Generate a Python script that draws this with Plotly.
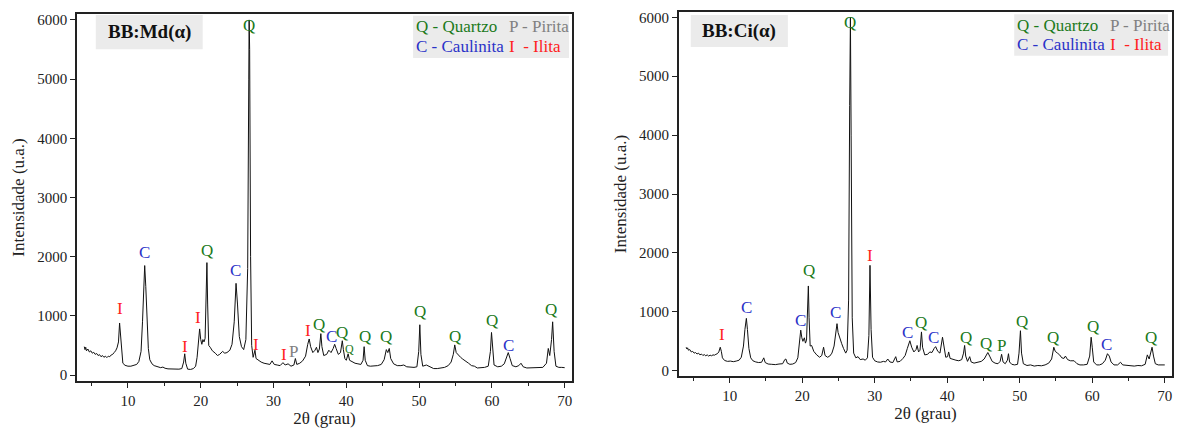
import plotly.graph_objects as go

# ---------------- data: BB:Md(alpha) ----------------
md_theta = [4.0, 4.1, 4.2, 4.3, 4.5, 4.7, 4.9, 5.1, 5.3, 5.5, 5.7, 5.9, 6.1, 6.3, 6.5, 6.7, 6.9, 7.1, 7.3, 7.5,
            7.7, 7.9, 8.1, 8.3, 8.5, 8.7, 8.85, 9.0, 9.15, 9.3, 9.6, 10.0, 10.4, 10.8, 11.2, 11.5, 11.8, 12.0, 12.15, 12.3,
            12.45, 12.6, 12.8, 13.0, 13.3, 13.6, 14.0, 14.5, 14.8, 15.1, 15.5, 16.0, 16.5, 17.0, 17.4, 17.65, 17.8, 17.95, 18.2, 18.6,
            19.0, 19.3, 19.5, 19.7, 19.85, 20.0, 20.15, 20.3, 20.45, 20.6, 20.75, 20.85, 20.95, 21.1, 21.3, 21.6, 22.0, 22.3, 22.6, 23.0,
            23.3, 23.6, 24.0, 24.3, 24.6, 24.85, 25.05, 25.3, 25.6, 25.9, 26.2, 26.45, 26.6, 26.65, 26.72, 26.85, 27.0, 27.2, 27.45, 27.6,
            27.9, 28.3, 28.7, 29.1, 29.5, 29.8, 30.1, 30.5, 30.9, 31.3, 31.6, 32.0, 32.4, 32.8, 33.0, 33.2, 33.6, 34.0, 34.4, 34.7,
            34.9, 35.1, 35.4, 35.7, 35.9, 36.1, 36.3, 36.5, 36.65, 36.9, 37.3, 37.6, 37.9, 38.2, 38.4, 38.6, 38.9, 39.2, 39.45, 39.6,
            39.8, 40.0, 40.25, 40.45, 40.8, 41.2, 41.6, 42.0, 42.3, 42.45, 42.6, 42.9, 43.3, 43.8, 44.3, 44.8, 45.2, 45.5, 45.7, 45.9,
            46.1, 46.5, 47.0, 47.5, 47.9, 48.3, 48.8, 49.3, 49.7, 49.95, 50.1, 50.25, 50.5, 51.0, 51.5, 52.0, 52.5, 53.0, 53.5, 54.0,
            54.4, 54.7, 54.9, 55.1, 55.4, 55.7, 56.0, 56.4, 56.8, 57.2, 57.6, 58.0, 58.5, 59.0, 59.5, 59.8, 59.95, 60.1, 60.3, 60.8,
            61.3, 61.7, 62.0, 62.25, 62.5, 62.8, 63.3, 63.7, 64.0, 64.3, 64.8, 65.5, 66.0, 66.5, 67.0, 67.5, 67.75, 67.95, 68.2, 68.35,
            68.55, 68.8, 69.2, 69.6, 70.0]
md_int = [480, 430, 470, 410, 440, 390, 410, 370, 385, 350, 365, 330, 345, 310, 330, 300, 320, 295, 320, 310,
          340, 350, 380, 410, 460, 560, 880, 600, 300, 200, 165, 150, 150, 160, 180, 230, 400, 900, 1500, 1850,
          1500, 900, 450, 260, 190, 160, 140, 125, 135, 115, 105, 100, 95, 100, 110, 220, 360, 200, 100, 95,
          110, 150, 300, 650, 780, 600, 520, 600, 560, 620, 1300, 1900, 1200, 500, 470, 410, 370, 330, 350, 400,
          370, 380, 420, 520, 900, 1550, 1200, 650, 480, 430, 600, 1800, 5000, 6000, 5500, 2000, 500, 300, 420, 280,
          250, 220, 200, 190, 180, 240, 180, 170, 160, 210, 170, 190, 150, 170, 280, 180, 200, 240, 320, 520,
          610, 480, 380, 420, 470, 380, 440, 700, 480, 330, 350, 420, 380, 450, 520, 450, 350, 380, 580, 430,
          280, 250, 360, 250, 220, 200, 190, 180, 250, 480, 250, 160, 150, 150, 160, 180, 260, 430, 380, 450,
          280, 190, 160, 160, 170, 140, 130, 130, 140, 400, 850, 350, 150, 170, 140, 110, 110, 120, 130, 160,
          220, 350, 510, 380, 330, 300, 270, 240, 200, 160, 150, 120, 120, 130, 150, 400, 720, 400, 170, 140,
          150, 190, 300, 380, 280, 160, 140, 160, 200, 140, 120, 120, 130, 120, 130, 200, 450, 330, 600, 900,
          400, 150, 130, 130, 125]

md_lab_x = [8.85, 12.3, 17.8, 19.6, 20.85, 24.8, 26.65, 27.6, 31.5, 32.7, 34.8, 36.3, 37.9, 39.4, 40.5, 42.5, 45.5, 50.1, 54.9, 60.0, 62.3, 68.1]
md_lab_y = [1120, 2070, 490, 970, 2100, 1760, 5900, 525, 350, 390, 745, 860, 660, 717, 445, 644, 660, 1073, 660, 915, 508, 1113]
md_lab_t = ["I", "C", "I", "I", "Q", "C", "Q", "I", "I", "P", "I", "Q", "C", "Q", "Q", "Q", "Q", "Q", "Q", "Q", "C", "Q"]
md_lab_s = [17, 17, 17, 17, 17, 17, 17, 17, 17, 17, 17, 17, 17, 17, 12, 17, 17, 17, 17, 17, 17, 17]

# ---------------- data: BB:Ci(alpha) ----------------
ci_theta = [4.0, 4.1, 4.2, 4.3, 4.5, 4.7, 4.9, 5.1, 5.3, 5.5, 5.7, 5.9, 6.1, 6.3, 6.5, 6.7, 6.9, 7.1, 7.3, 7.5,
            7.7, 7.9, 8.1, 8.3, 8.5, 8.7, 8.85, 9.0, 9.3, 9.7, 10.1, 10.5, 10.9, 11.3, 11.6, 11.9, 12.1, 12.3, 12.45, 12.65,
            12.9, 13.2, 13.6, 14.0, 14.4, 14.7, 14.9, 15.3, 15.8, 16.3, 16.8, 17.3, 17.6, 17.75, 17.95, 18.3, 18.7, 19.1, 19.4, 19.65,
            19.8, 19.95, 20.1, 20.3, 20.45, 20.6, 20.75, 20.85, 20.95, 21.1, 21.3, 21.6, 22.0, 22.4, 22.7, 22.95, 23.15, 23.5, 23.8, 24.1,
            24.4, 24.65, 24.8, 24.95, 25.2, 25.45, 25.7, 26.0, 26.2, 26.4, 26.55, 26.65, 26.75, 26.9, 27.1, 27.4, 27.7, 28.0, 28.4, 28.7,
            29.0, 29.2, 29.35, 29.5, 29.7, 30.0, 30.4, 30.8, 31.2, 31.5, 31.8, 32.1, 32.5, 32.9, 33.1, 33.5, 33.9, 34.2, 34.5, 34.85,
            35.1, 35.4, 35.7, 35.85, 36.05, 36.25, 36.45, 36.6, 36.9, 37.3, 37.6, 37.9, 38.2, 38.4, 38.7, 39.0, 39.35, 39.55, 39.8, 40.05,
            40.2, 40.4, 40.8, 41.2, 41.6, 42.0, 42.25, 42.4, 42.55, 42.8, 43.1, 43.3, 43.7, 44.2, 44.7, 45.1, 45.4, 45.6, 45.85, 46.2,
            46.6, 47.0, 47.3, 47.5, 47.7, 48.0, 48.3, 48.45, 48.6, 48.9, 49.3, 49.7, 49.9, 50.1, 50.25, 50.5, 51.0, 51.5, 52.0, 52.5,
            53.0, 53.5, 54.0, 54.4, 54.7, 54.9, 55.2, 55.5, 55.8, 56.1, 56.3, 56.6, 57.0, 57.5, 57.9, 58.3, 58.8, 59.3, 59.65, 59.85,
            60.0, 60.2, 60.6, 61.0, 61.4, 61.8, 62.1, 62.35, 62.6, 63.0, 63.5, 63.9, 64.2, 64.7, 65.2, 65.8, 66.3, 66.8, 67.3, 67.6,
            67.85, 68.05, 68.25, 68.45, 68.7, 69.1, 69.5, 70.0]
ci_int = [400, 370, 390, 350, 360, 320, 330, 300, 310, 285, 300, 270, 285, 260, 275, 255, 270, 250, 265, 255,
          270, 265, 280, 290, 320, 400, 330, 220, 175, 160, 165, 155, 165, 180, 230, 420, 700, 890, 700, 380,
          220, 170, 150, 140, 145, 220, 140, 115, 110, 105, 115, 120, 190, 200, 130, 110, 115, 140, 220, 550,
          690, 560, 500, 560, 470, 520, 1000, 1440, 900, 420, 430, 330, 270, 230, 260, 400, 260, 230, 250, 300,
          420, 650, 800, 650, 530, 460, 380, 300, 350, 1200, 4500, 6000, 4000, 900, 300, 220, 240, 190, 200, 180,
          220, 600, 1790, 700, 230, 170, 150, 145, 160, 150, 200, 150, 140, 240, 150, 160, 210, 260, 380, 510,
          400, 320, 360, 430, 320, 350, 660, 400, 270, 280, 320, 310, 380, 410, 330, 300, 570, 380, 230, 240,
          320, 210, 190, 180, 170, 190, 300, 430, 250, 160, 240, 150, 130, 140, 160, 200, 280, 310, 250, 160,
          130, 120, 160, 280, 150, 120, 180, 290, 150, 110, 100, 110, 300, 680, 300, 120, 90, 100, 80, 90,
          85, 100, 130, 200, 400, 330, 300, 270, 220, 210, 250, 190, 170, 170, 120, 100, 100, 110, 250, 570,
          400, 150, 100, 100, 120, 180, 290, 250, 150, 100, 100, 145, 100, 90, 90, 80, 90, 85, 110, 270,
          200, 300, 400, 250, 120, 100, 95, 100]

ci_lab_x = [8.9, 12.3, 19.8, 20.9, 24.6, 26.6, 29.35, 34.5, 36.4, 38.1, 42.6, 45.4, 47.5, 50.3, 54.6, 60.1, 62.0, 68.1]
ci_lab_y = [624, 1077, 850, 1700, 991, 5906, 1956, 652, 822, 567, 567, 465, 425, 833, 567, 748, 454, 567]
ci_lab_t = ["I", "C", "C", "Q", "C", "Q", "I", "C", "Q", "C", "Q", "Q", "P", "Q", "Q", "Q", "C", "Q"]
ci_lab_c = ["red", "blue", "blue", "green", "blue", "green", "red", "blue", "green", "blue", "green", "green", "green",
            "green", "green", "green", "blue", "green"]

# ---------------- style ----------------
FONT = "Liberation Serif, Times New Roman, Times, serif"
COL = {"Q": "#1b7a1b", "C": "#2a32c8", "I": "#ff2020", "P": "#808080",
       "green": "#1b7a1b", "blue": "#2a32c8", "red": "#ff2020", "gray": "#808080"}

fig = go.Figure()
fig.add_trace(go.Scatter(x=md_theta, y=md_int, mode="lines", line=dict(color="#111111", width=1),
                         xaxis="x", yaxis="y", showlegend=False, hoverinfo="x+y"))
fig.add_trace(go.Scatter(x=ci_theta, y=ci_int, mode="lines", line=dict(color="#111111", width=1),
                         xaxis="x2", yaxis="y2", showlegend=False, hoverinfo="x+y"))

annotations = []
for x, y, t, s in zip(md_lab_x, md_lab_y, md_lab_t, md_lab_s):
    annotations.append(dict(x=x, y=y, xref="x", yref="y", text=t, showarrow=False,
                            xanchor="center", yanchor="middle",
                            font=dict(family=FONT, size=s, color=COL[t])))
for x, y, t, c in zip(ci_lab_x, ci_lab_y, ci_lab_t, ci_lab_c):
    annotations.append(dict(x=x, y=y, xref="x2", yref="y2", text=t, showarrow=False,
                            xanchor="center", yanchor="middle",
                            font=dict(family=FONT, size=17, color=COL[c])))

shapes = []
# sample name boxes and legend boxes
panels = [("x", "y", "BB:Md(α)", (0.038, 0.254, 0.904, 0.997), (0.679, 0.994, 0.880, 0.995)),
          ("x2", "y2", "BB:Ci(α)", (0.024, 0.221, 0.904, 0.992), (0.68, 0.992, 0.880, 0.994))]
for xr, yr, name, nb, lb in panels:
    shapes.append(dict(type="rect", xref=xr + " domain", yref=yr + " domain", x0=nb[0], x1=nb[1], y0=nb[2], y1=nb[3],
                       fillcolor="#ebebeb", line=dict(width=0), layer="below"))
    shapes.append(dict(type="rect", xref=xr + " domain", yref=yr + " domain", x0=lb[0], x1=lb[1], y0=lb[2], y1=lb[3],
                       fillcolor="#ebebeb", line=dict(width=0), layer="below"))
    annotations.append(dict(x=(nb[0] + nb[1]) / 2, y=(nb[2] + nb[3]) / 2, xref=xr + " domain", yref=yr + " domain",
                            xanchor="center", yanchor="middle",
                            text="<b>" + name + "</b>", showarrow=False, font=dict(family=FONT, size=19, color="#111")))
    lx0 = lb[0] + 0.002
    lx1 = lb[0] + 0.19
    ytop = lb[3] - 0.03
    ybot = lb[2] + 0.032
    for (tx, xx, yy, cc) in [("Q - Quartzo", lx0, ytop, "Q"), ("P - Pirita", lx1, ytop, "P"),
                             ("C - Caulinita", lx0, ybot, "C"), ("I  - Ilita", lx1, ybot, "I")]:
        annotations.append(dict(x=xx, y=yy, xref=xr + " domain", yref=yr + " domain", text=tx.replace("  ", "&nbsp; "),
                                showarrow=False, xanchor="left", yanchor="middle",
                                font=dict(family=FONT, size=17, color=COL[cc])))

axis_common = dict(showline=True, mirror=True, linecolor="#222", linewidth=1.6, ticks="outside",
                   tickcolor="#222", tickwidth=1.2, showgrid=False, zeroline=False,
                   tickfont=dict(family=FONT, size=15, color="#222"))
xaxis_common = dict(axis_common, range=[3, 71], tickvals=[10, 20, 30, 40, 50, 60, 70], ticklen=5,
                    minor=dict(tickvals=[5, 15, 25, 35, 45, 55, 65], ticklen=3, ticks="outside", tickcolor="#222"),
                    title=dict(text="2θ (grau)", font=dict(family=FONT, size=17, color="#222"), standoff=2))
yaxis_common = dict(axis_common, tickvals=[0, 1000, 2000, 3000, 4000, 5000, 6000], ticklen=5,
                    title=dict(text="Intensidade (u.a.)", font=dict(family=FONT, size=17, color="#222"), standoff=8))

fig.update_layout(
    width=1179, height=428, paper_bgcolor="white", plot_bgcolor="white",
    margin=dict(l=77, r=5, t=12, b=40),
    xaxis=dict(xaxis_common, domain=[0, 0.452], anchor="y"),
    yaxis=dict(yaxis_common, domain=[0.0, 0.9946], range=[-100, 6100], anchor="x"),
    xaxis2=dict(xaxis_common, domain=[0.5497, 1.0], anchor="y2"),
    yaxis2=dict(yaxis_common, domain=[0.0136, 1.0], range=[-88, 6090], anchor="x2"),
    annotations=annotations, shapes=shapes, showlegend=False,
)

# remove the default 8px page margin so the figure sits at the window's top-left corner
fig.write_html("out.html", config={"displayModeBar": False},
               post_script="document.body.style.margin='0';document.body.style.overflow='hidden';")
